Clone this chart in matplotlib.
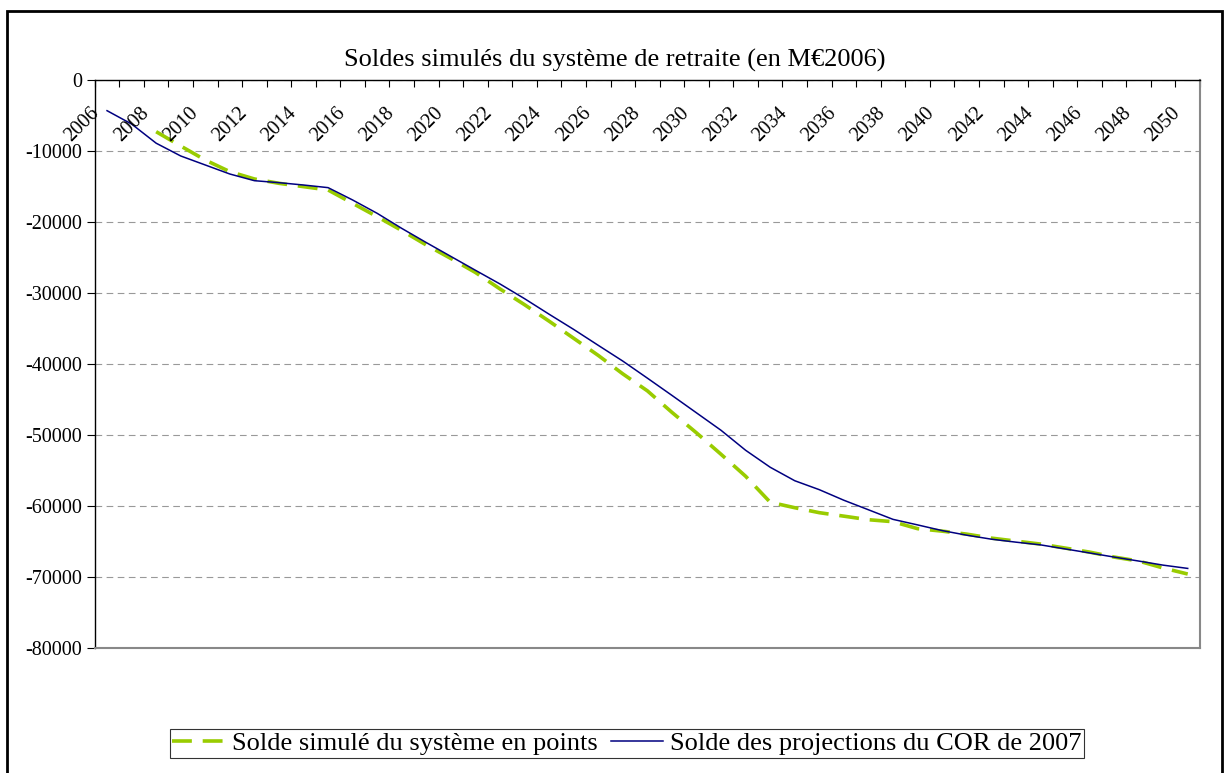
import numpy as np
import matplotlib.pyplot as plt
import matplotlib.transforms as mtransforms
from matplotlib.patches import Rectangle

plt.rcParams['font.family'] = ['Liberation Serif', 'DejaVu Serif']

# Données (M€2006)
years = list(range(2006, 2051))
solde_points = [np.nan, np.nan,
                -7280, -9300, -11270, -12910, -13940, -14550, -15020, -15490,
                -17370, -19250, -21200, -23240, -25140, -27110, -29430, -31650,
                -33970, -36380, -38790, -41390, -43780, -46810, -49700, -52720,
                -55810, -59470, -60240, -60940, -61430, -61930, -62210, -63190,
                -63540, -63960, -64520, -64940, -65360, -65920, -66490, -67190,
                -67750, -68730, -69580]
solde_cor = [-4320, -6200, -8900, -10700, -11970, -13240, -14180, -14460,
             -14790, -15160, -16900, -18780, -20900, -22900, -24850, -26800,
             -28730, -30800, -32990, -35130, -37370, -39590, -41990, -44420,
             -46880, -49340, -52150, -54540, -56440, -57700, -59190, -60530,
             -61880, -62660, -63460, -64110, -64670, -65090, -65470, -66040,
             -66610, -67190, -67750, -68330, -68790]
year_labels = [str(y) for y in years[::2]]
y_ticks = list(range(0, -80001, -10000))

fig = plt.figure(figsize=(12.29, 7.73), dpi=100)
ax = fig.add_axes([0.0771, 0.1617, 0.8993, 0.7348])

x = np.arange(len(years))
ax.plot(x, solde_points, color='#99CC00', lw=2.6, dashes=(5.5, 3.0),
        label='Solde simulé du système en points')
ax.plot(x, solde_cor, color='#000080', lw=1.1,
        label='Solde des projections du COR de 2007')

ax.set_xlim(-0.5, len(years) - 0.5)
ax.set_ylim(-80000, 0)
ax.set_yticks(y_ticks)
ax.set_yticklabels([str(v) for v in y_ticks], fontsize=14.5)
ax.yaxis.grid(True, color='#999999', ls=(0, (6, 4)), lw=0.8)
ax.set_axisbelow(True)

# axe des x en haut (croise à 0), graduations entre catégories
ax.set_xticks(np.arange(-0.5, len(years), 1.0))
ax.tick_params(axis='x', which='major', direction='in', top=True, bottom=False,
               labelbottom=False, labeltop=False, length=5, width=0.8)
ax.tick_params(axis='y', direction='out', length=6, width=0.8, pad=3)
ax.spines['top'].set_linewidth(1.0)
ax.spines['left'].set_linewidth(1.0)
ax.spines['right'].set_color('#888888')
ax.spines['bottom'].set_color('#888888')
ax.spines['right'].set_linewidth(1.5)
ax.spines['bottom'].set_linewidth(1.5)

off = mtransforms.offset_copy(ax.get_xaxis_transform(), fig=fig,
                              x=-24.5, y=-45, units='dots')
for i, lab in zip(x[::2], year_labels):
    ax.text(i, 1, lab, transform=off, rotation=45, ha='center', va='center',
            fontsize=14.5)

fig.text(0.5, 0.922, 'Soldes simulés du système de retraite (en M€2006)',
         ha='center', va='center', fontsize=19)

leg = fig.legend(loc='center', bbox_to_anchor=(0.51, 0.038), ncol=2,
                 fontsize=19, frameon=True, fancybox=False, handlelength=2.0,
                 columnspacing=0.5, handletextpad=0.25, borderpad=0.1,
                 borderaxespad=0)
leg.get_frame().set_edgecolor('black')
leg.get_frame().set_linewidth(0.8)

fig.patches.append(Rectangle((7 / 1229, -0.01), 1215 / 1229, 1 - 11 / 773 + 0.01,
                             transform=fig.transFigure, fill=False,
                             edgecolor='black', lw=2))

fig.savefig('out.png', dpi=100)
